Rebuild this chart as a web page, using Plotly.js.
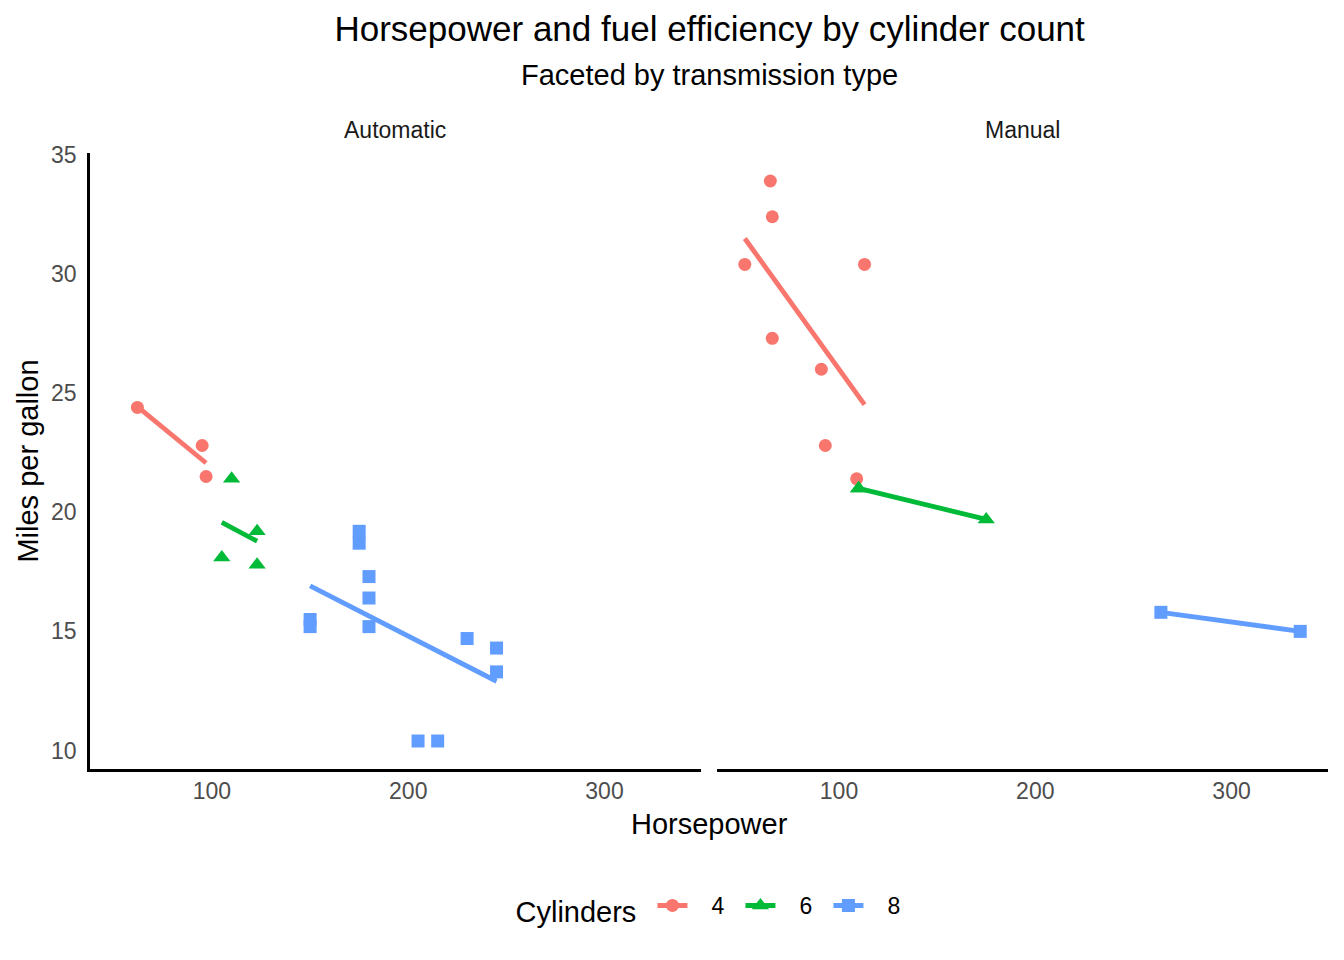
<!DOCTYPE html>
<html>
<head>
<meta charset="utf-8">
<script src="https://cdn.plot.ly/plotly-3.0.1.min.js"></script>
<style>
  body { margin: 0; background: #fff; }
  #chart { width: 1344px; height: 960px; }
</style>
</head>
<body>
<div id="chart"></div>
<script>
    // mtcars: horsepower, mpg, cylinders, transmission (0 = automatic, 1 = manual)
    var hp  = [110, 110, 93, 110, 175, 105, 245, 62, 95, 123, 123, 180, 180, 180, 205, 215,
               230, 66, 52, 65, 97, 150, 150, 245, 175, 66, 91, 113, 264, 175, 335, 109];
    var mpg = [21.0, 21.0, 22.8, 21.4, 18.7, 18.1, 14.3, 24.4, 22.8, 19.2, 17.8, 16.4, 17.3, 15.2, 10.4, 10.4,
               14.7, 32.4, 30.4, 33.9, 21.5, 15.5, 15.2, 13.3, 19.2, 27.3, 26.0, 30.4, 15.8, 19.7, 15.0, 21.4];
    var cyl = [6, 6, 4, 6, 8, 6, 8, 4, 4, 6, 6, 8, 8, 8, 8, 8,
               8, 4, 4, 4, 4, 8, 8, 8, 8, 4, 4, 4, 8, 6, 8, 4];
    var am  = [1, 1, 1, 0, 0, 0, 0, 0, 0, 0, 0, 0, 0, 0, 0, 0,
               0, 1, 1, 1, 0, 0, 0, 0, 0, 1, 1, 1, 1, 1, 1, 1];

    var cylLevels = [4, 6, 8];
    var cylColors = ['#F8766D', '#00BA38', '#619CFF'];
    var cylSymbols = ['circle', 'triangle-up', 'square'];
    var cylSizes = [13, 15, 13];
    var panels = [{am: 0, label: 'Automatic', xa: 'x', ya: 'y'},
                  {am: 1, label: 'Manual', xa: 'x2', ya: 'y2'}];

    // least squares fit, like geom_smooth(method = "lm", se = FALSE)
    function lmLine(xs, ys) {
        var n = xs.length, mx = 0, my = 0;
        for (var i = 0; i < n; i++) { mx += xs[i]; my += ys[i]; }
        mx /= n; my /= n;
        var sxy = 0, sxx = 0;
        for (var i = 0; i < n; i++) { sxy += (xs[i] - mx) * (ys[i] - my); sxx += (xs[i] - mx) * (xs[i] - mx); }
        var b = sxx ? sxy / sxx : 0, a = my - b * mx;
        var x0 = Math.min.apply(null, xs), x1 = Math.max.apply(null, xs);
        return {x: [x0, x1], y: [a + b * x0, a + b * x1]};
    }

    var lines = [], points = [];
    panels.forEach(function(p) {
        cylLevels.forEach(function(c, k) {
            var xs = [], ys = [];
            for (var i = 0; i < hp.length; i++) {
                if (am[i] === p.am && cyl[i] === c) { xs.push(hp[i]); ys.push(mpg[i]); }
            }
            points.push({
                x: xs, y: ys, xaxis: p.xa, yaxis: p.ya,
                type: 'scatter', mode: 'markers', showlegend: false,
                marker: {color: cylColors[k], symbol: cylSymbols[k], size: cylSizes[k]},
                hoverinfo: 'x+y'
            });
            var fit = lmLine(xs, ys);
            lines.push({
                x: fit.x, y: fit.y, xaxis: p.xa, yaxis: p.ya,
                type: 'scatter', mode: 'lines', showlegend: false,
                line: {color: cylColors[k], width: 4.8},
                hoverinfo: 'skip'
            });
        });
    });
    var data = lines.concat(points);
    // legend keys
    cylLevels.forEach(function(c, k) {
        data.push({
            x: [null], y: [null], type: 'scatter', mode: 'lines+markers',
            name: '\u00a0\u00a0\u00a0' + String(c),
            line: {color: cylColors[k], width: 5},
            marker: {color: cylColors[k], symbol: cylSymbols[k], size: cylSizes[k]}
        });
    });

    var tickFont = {family: 'Liberation Sans, Arial, sans-serif', size: 23, color: '#4D4D4D'};
    var xRange = [37.85, 349.15];
    var yRange = [9.225, 35.075];

    var layout = {
        width: 1344, height: 960,
        paper_bgcolor: '#fff', plot_bgcolor: '#fff',
        margin: {t: 153, r: 16, l: 90, b: 191},
        font: {family: 'Liberation Sans, Arial, sans-serif', color: '#000'},
        title: {
            text: 'Horsepower and fuel efficiency by cylinder count',
            font: {size: 35, color: '#000'},
            x: 0.528, xanchor: 'center', y: 1 - 29 / 960, yref: 'container', yanchor: 'middle'
        },
        xaxis: {
            domain: [0, 0.4935], range: xRange, tickvals: [100, 200, 300],
            showgrid: false, zeroline: false, ticks: '', showline: true, ticklabelstandoff: 0,
            linecolor: '#000', linewidth: 2.5, tickfont: tickFont, anchor: 'y'
        },
        xaxis2: {
            domain: [0.5065, 1], range: xRange, tickvals: [100, 200, 300],
            showgrid: false, zeroline: false, ticks: '', showline: true, ticklabelstandoff: 0,
            linecolor: '#000', linewidth: 2.5, tickfont: tickFont, anchor: 'y2'
        },
        yaxis: {
            domain: [0, 1], range: yRange, tickvals: [10, 15, 20, 25, 30, 35],
            showgrid: false, zeroline: false, ticks: '', showline: true, ticklabelstandoff: 6,
            linecolor: '#000', linewidth: 2.5, tickfont: tickFont, anchor: 'x',
            title: {text: 'Miles per gallon', font: {size: 29, color: '#000'}, standoff: 4}
        },
        yaxis2: {
            domain: [0, 1], range: yRange, tickvals: [10, 15, 20, 25, 30, 35],
            showgrid: false, zeroline: false, ticks: '', showline: false,
            showticklabels: false, anchor: 'x2'
        },
        showlegend: true,
        legend: {
            orientation: 'h', x: 0.5 + 6 / 1238, xanchor: 'center', xref: 'paper',
            y: -139 / 616, yanchor: 'middle',
            title: {text: 'Cylinders ', font: {size: 29, color: '#000'}, side: 'left'},
            font: {size: 23, color: '#000'},
            entrywidth: 43, entrywidthmode: 'pixels',
            traceorder: 'normal'
        },
        annotations: [
            {text: 'Faceted by transmission type', xref: 'paper', yref: 'paper',
             x: 0.5, y: 1 + 78 / 616, xanchor: 'center', yanchor: 'middle', showarrow: false,
             font: {size: 29, color: '#000'}},
            {text: 'Automatic', xref: 'x domain', yref: 'paper', x: 0.5, y: 1 + 23 / 616,
             xanchor: 'center', yanchor: 'middle', showarrow: false, font: {size: 23, color: '#1A1A1A'}},
            {text: 'Manual', xref: 'x2 domain', yref: 'paper', x: 0.5, y: 1 + 23 / 616,
             xanchor: 'center', yanchor: 'middle', showarrow: false, font: {size: 23, color: '#1A1A1A'}},
            {text: 'Horsepower', xref: 'paper', yref: 'paper', x: 0.5, y: -55 / 616,
             xanchor: 'center', yanchor: 'middle', showarrow: false, font: {size: 29, color: '#000'}}
        ]
    };

    Plotly.newPlot('chart', data, layout, {displayModeBar: false});
</script>
</body>
</html>
